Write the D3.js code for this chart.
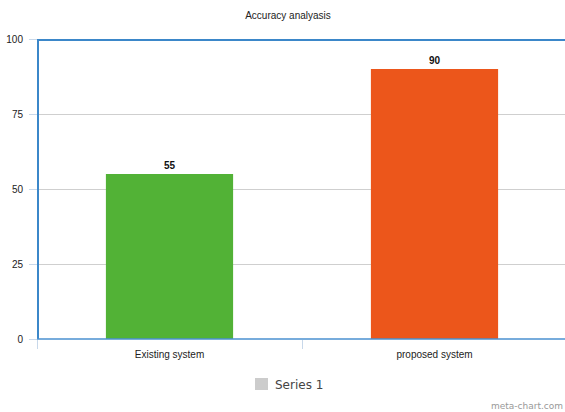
<!DOCTYPE html>
<html>
<head>
<meta charset="utf-8">
<script src="https://cdn.jsdelivr.net/npm/d3@7"></script>
<style>
  body { margin: 0; background: #fff; }
  svg { font-family: "Liberation Sans", Arial, sans-serif; }
</style>
</head>
<body>
<div class="graphic"></div>
<script>
var categories = ["Existing system", "proposed system"];
var values = [55, 90];
var barColors = ["#52b236", "#ec561b"];
var yTicks = [0, 25, 50, 75, 100];
var seriesName = "Series 1";

var width = 565;
var height = 412;
var svg = d3.select("div.graphic").append("svg")
	.attr("width", width)
	.attr("height", height);

var plotLeft = 37, plotTop = 39, plotBottom = 339, plotRight = 567;

var x = d3.scaleBand()
	.domain(categories)
	.range([plotLeft, plotRight])
	.paddingInner(0)
	.paddingOuter(0);

var y = d3.scaleLinear()
	.domain([0, 100])
	.range([plotBottom, plotTop]);

// title
svg.append("text")
	.attr("x", 288)
	.attr("y", 19)
	.attr("text-anchor", "middle")
	.attr("font-size", 10)
	.attr("fill", "#222")
	.text("Accuracy analyasis");

// gridlines
svg.append("g").selectAll("line")
	.data(yTicks.filter(function(d){ return d > 0 && d < 100; }))
	.enter()
	.append("line")
	.attr("x1", plotLeft)
	.attr("x2", plotRight)
	.attr("y1", function(d){ return y(d) + 0.5; })
	.attr("y2", function(d){ return y(d) + 0.5; })
	.attr("stroke", "#cfcfcf")
	.attr("stroke-width", 1);

// y axis
var yAxis = svg.append("g")
	.attr("transform", "translate(" + plotLeft + ",0)")
	.call(d3.axisLeft(y).tickValues(yTicks).tickSize(8).tickPadding(6));
yAxis.select(".domain").remove();
yAxis.selectAll(".tick line").attr("stroke", "#c8d8ea");
yAxis.selectAll(".tick text")
	.attr("font-size", 10)
	.attr("fill", "#222")
	.attr("font-family", "Liberation Sans, Arial, sans-serif");

// bars
var barWidth = x.bandwidth() * 0.48;
svg.append("g").selectAll("rect")
	.data(values)
	.enter()
	.append("rect")
	.attr("x", function(d, i){ return x(categories[i]) + (x.bandwidth() - barWidth) / 2; })
	.attr("y", function(d){ return y(d); })
	.attr("width", barWidth)
	.attr("height", function(d){ return y(0) - y(d); })
	.attr("fill", function(d, i){ return barColors[i]; });

// value labels
svg.append("g").selectAll("text")
	.data(values)
	.enter()
	.append("text")
	.attr("x", function(d, i){ return x(categories[i]) + x.bandwidth() / 2; })
	.attr("y", function(d){ return y(d) - 5; })
	.attr("text-anchor", "middle")
	.attr("font-size", 10)
	.attr("font-weight", "bold")
	.attr("fill", "#111")
	.text(function(d){ return d; });

// plot frame (left, top)
svg.append("path")
	.attr("d", "M" + plotRight + "," + (plotTop + 1) + "H" + (plotLeft + 1) + "V" + plotBottom)
	.attr("fill", "none")
	.attr("stroke", "#3b87c9")
	.attr("stroke-width", 2);

// bottom axis line
svg.append("line")
	.attr("x1", plotLeft)
	.attr("x2", plotRight)
	.attr("y1", plotBottom)
	.attr("y2", plotBottom)
	.attr("stroke", "#4a90d0")
	.attr("stroke-width", 1.6);

// x axis
var xAxis = svg.append("g")
	.attr("transform", "translate(0," + plotBottom + ")")
	.call(d3.axisBottom(x).tickSize(0).tickPadding(12));
xAxis.select(".domain").remove();
xAxis.selectAll(".tick text")
	.attr("font-size", 10)
	.attr("fill", "#222")
	.attr("font-family", "Liberation Sans, Arial, sans-serif");

// category separators
svg.append("g").selectAll("line")
	.data(categories.concat(["end"]))
	.enter()
	.append("line")
	.attr("x1", function(d, i){ return plotLeft + i * x.bandwidth() + 0.5; })
	.attr("x2", function(d, i){ return plotLeft + i * x.bandwidth() + 0.5; })
	.attr("y1", plotBottom + 1)
	.attr("y2", plotBottom + 10)
	.attr("stroke", "#c8d8ea");

// legend
var legend = svg.append("g");
legend.append("rect")
	.attr("x", 255)
	.attr("y", 378)
	.attr("width", 13)
	.attr("height", 12)
	.attr("fill", "#cccccc");
legend.append("text")
	.attr("x", 275)
	.attr("y", 389)
	.attr("font-size", 12)
	.attr("font-family", "DejaVu Sans, sans-serif")
	.attr("fill", "#444")
	.text(seriesName);

// watermark
svg.append("text")
	.attr("x", 563)
	.attr("y", 409)
	.attr("text-anchor", "end")
	.attr("font-size", 9)
	.attr("font-family", "DejaVu Sans, sans-serif")
	.attr("fill", "#999")
	.text("meta-chart.com");
</script>
</body>
</html>
